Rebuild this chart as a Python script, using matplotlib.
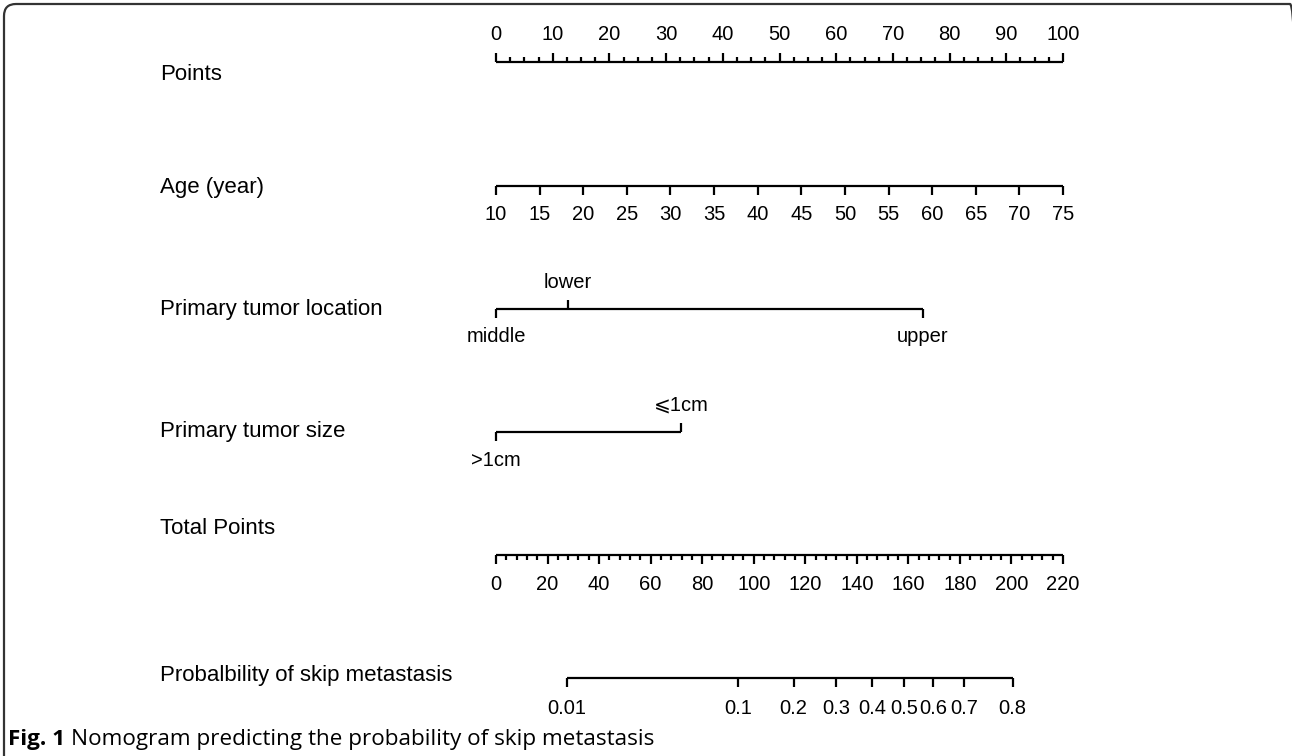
import matplotlib
matplotlib.use("Agg")
import matplotlib.pyplot as plt
from matplotlib.patches import FancyBboxPatch

plt.rcParams['font.family'] = ['Liberation Sans', 'DejaVu Sans']

# ---- nomogram data ----
points_ticks = list(range(0, 101, 10))
points_minor = [i * 2.5 for i in range(41)]

age_ticks = list(range(10, 76, 5))
age_min, age_max = 10, 75          # age 10 -> 0 pts, age 75 -> 100 pts

loc_levels = ['middle', 'lower', 'upper']
loc_points = [0, 12.7, 75.3]
loc_side = ['below', 'above', 'below']

size_levels = ['>1cm', '\u2a7d1cm']
size_points = [0, 32.6]
size_side = ['below', 'above']

total_ticks = list(range(0, 221, 20))
total_minor = list(range(0, 221, 4))
total_max = 220

prob_labels = ['0.01', '0.1', '0.2', '0.3', '0.4', '0.5', '0.6', '0.7', '0.8']
prob_total = [27.5, 94.0, 115.5, 132.0, 146.0, 158.5, 169.5, 181.5, 200.5]

row_names = ['Points', 'Age (year)', 'Primary tumor location',
             'Primary tumor size', 'Total Points',
             'Probalbility of skip metastasis']

# ---- layout (pixels) ----
W, H = 1292, 756
X0, X100 = 496, 1063               # pixel position of 0 and 100 points
ppt = (X100 - X0) / 100.0
row_y = [62, 186, 309, 432, 555, 678]
name_y = [75, 187, 309, 432, 528, 675]
name_x = 160
tick_long, tick_short = 9, 5
lw = 1.6
tick_fs = 14.5
name_fs = 16

fig = plt.figure(figsize=(W / 100, H / 100), dpi=100)
ax = fig.add_axes([0, 0, 1, 1])
ax.set_xlim(-X0 / ppt, (W - X0) / ppt)
ax.set_ylim(H, 0)
ax.axis('off')


def hline(y, x_from, x_to):
    ax.plot([x_from, x_to], [y, y], color='black', lw=lw, solid_capstyle='butt')


def tick(x, y, length, up):
    d = -length if up else length
    ax.plot([x, x], [y, y + d], color='black', lw=lw, solid_capstyle='butt')


name_x_pts = (name_x - X0) / ppt
for ny, nm in zip(name_y, row_names):
    ax.text(name_x_pts, ny, nm, ha='left', va='center', fontsize=name_fs)

# Points
y = row_y[0]
hline(y, 0, 100)
for p in points_minor:
    tick(p, y, tick_long if p in points_ticks else tick_short, True)
for p in points_ticks:
    ax.text(p, 34, str(p), ha='center', va='center', fontsize=tick_fs)

# Age
y = row_y[1]
age_pts = [(a - age_min) * 100.0 / (age_max - age_min) for a in age_ticks]
hline(y, age_pts[0], age_pts[-1])
for a, p in zip(age_ticks, age_pts):
    tick(p, y, tick_long, False)
    ax.text(p, 215, str(a), ha='center', va='center', fontsize=tick_fs)

# Primary tumor location
y = row_y[2]
hline(y, min(loc_points), max(loc_points))
for nm, p, side in zip(loc_levels, loc_points, loc_side):
    up = side == 'above'
    tick(p, y, tick_long, up)
    ax.text(p, 282 if up else 337, nm, ha='center', va='center', fontsize=tick_fs)

# Primary tumor size
y = row_y[3]
hline(y, min(size_points), max(size_points))
for nm, p, side in zip(size_levels, size_points, size_side):
    up = side == 'above'
    tick(p, y, tick_long, up)
    ax.text(p, 405 if up else 461, nm, ha='center', va='center', fontsize=tick_fs,
            family=['Liberation Sans', 'DejaVu Sans'])

# Total points
y = row_y[4]
tp = lambda t: t * 100.0 / total_max
hline(y, tp(0), tp(total_max))
for t in total_minor:
    tick(tp(t), y, tick_long if t in total_ticks else tick_short, False)
for t in total_ticks:
    ax.text(tp(t), 585, str(t), ha='center', va='center', fontsize=tick_fs)

# Probability
y = row_y[5]
hline(y, tp(prob_total[0]), tp(prob_total[-1]))
for lab, t in zip(prob_labels, prob_total):
    tick(tp(t), y, tick_long, False)
    ax.text(tp(t), 709, lab, ha='center', va='center', fontsize=tick_fs)

# rounded frame, cut off at right and bottom (display coords, y from bottom)
frame = FancyBboxPatch((4, -80), 1298, H - 4 + 80, boxstyle='round,pad=0,rounding_size=12',
                       transform=None, fill=False, lw=1.6, ec='#333333')
fig.patches.append(frame)

# caption
cap_y = 1 - 740 / H
t1 = fig.text(8 / W, cap_y, 'Fig. 1', fontsize=16.2, fontweight='bold',
              family='Open Sans', va='center', ha='left')
fig.canvas.draw()
bb = t1.get_window_extent()
fig.text((bb.x1 + 6) / W, cap_y, 'Nomogram predicting the probability of skip metastasis',
         fontsize=16.2, family='Open Sans', va='center', ha='left')

fig.savefig('out.png', dpi=100)
